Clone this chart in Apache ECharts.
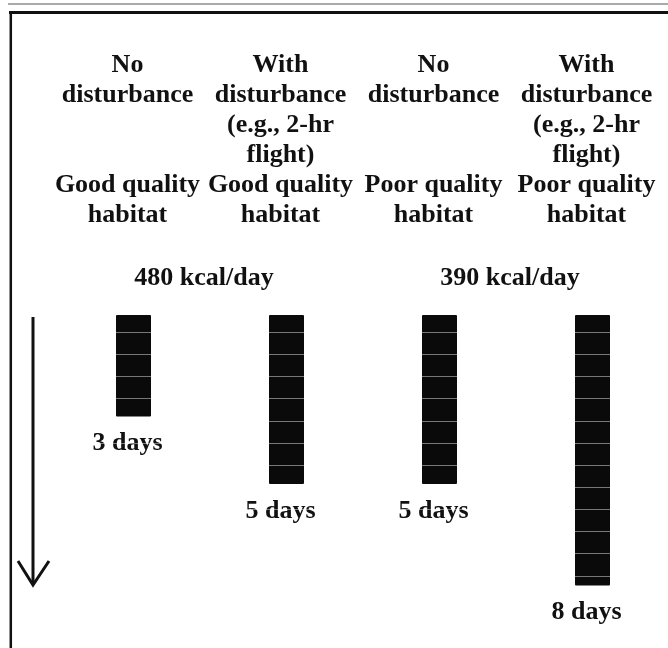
<!DOCTYPE html>
<html>
<head>
<meta charset="utf-8">
<title>Days to recover</title>
<script src="https://cdn.jsdelivr.net/npm/echarts@6/dist/echarts.min.js"></script>
<style>
  html, body { margin: 0; padding: 0; background: #fff; }
  #main { width: 668px; height: 648px; }
</style>
</head>
<body>
<div id="main"></div>
<script>
// header texts, one per column
var disturbance = [
  'No\ndisturbance',
  'With\ndisturbance\n(e.g., 2-hr\nflight)',
  'No\ndisturbance',
  'With\ndisturbance\n(e.g., 2-hr\nflight)'
];
var habitat = [
  'Good quality\nhabitat',
  'Good quality\nhabitat',
  'Poor quality\nhabitat',
  'Poor quality\nhabitat'
];
// days needed, one bar per column
var days = [3, 5, 5, 8];
// energy intake, one per habitat pair
var intake = ['480 kcal/day', '390 kcal/day'];

var ink = '#111';
var font = {
  fontFamily: 'Liberation Serif',
  fontSize: 26,
  fontWeight: 'bold',
  color: ink,
  lineHeight: 30
};

function headerText(v, i) {
  var lines = disturbance[i].split('\n');
  while (lines.length < 4) lines.push('');
  return lines.concat(habitat[i].split('\n')).join('\n');
}

var myChart = echarts.init(document.getElementById('main'));
var option = {
  backgroundColor: '#fff',
  animation: false,
  grid: [
    {left: 57, width: 612, top: 315, height: 304.2, outerBoundsMode: 'none'},   // bars
    {left: 57, width: 612, top: 310.2, height: 287.7, outerBoundsMode: 'none'}, // scan stripes
    {left: 51, width: 612, top: 50, height: 10, outerBoundsMode: 'none'},       // headers
    {left: 51, width: 612, top: 278, height: 10, outerBoundsMode: 'none'}       // kcal
  ],
  xAxis: [
    {gridIndex: 0, type: 'category', data: disturbance, show: false},
    {gridIndex: 1, type: 'value', min: 0, max: 1, show: false},
    {
      gridIndex: 2, type: 'category', position: 'top', data: disturbance,
      axisLine: {show: false}, axisTick: {show: false},
      axisLabel: Object.assign({interval: 0, margin: 0, verticalAlign: 'top', formatter: headerText}, font)
    },
    {
      gridIndex: 3, type: 'category', position: 'top', data: intake,
      axisLine: {show: false}, axisTick: {show: false},
      axisLabel: Object.assign({interval: 0, margin: 0, verticalAlign: 'middle'}, font)
    }
  ],
  yAxis: [
    {gridIndex: 0, type: 'value', inverse: true, min: 0, max: 9, show: false},
    {
      gridIndex: 1, type: 'value', inverse: true, min: 0, max: 13, interval: 1, z: 10,
      axisLine: {show: false}, axisTick: {show: false}, axisLabel: {show: false},
      splitLine: {show: true, lineStyle: {color: 'rgba(255,255,255,0.45)', width: 1}}
    },
    {gridIndex: 2, type: 'value', show: false},
    {gridIndex: 3, type: 'value', show: false}
  ],
  series: [
    {
      type: 'bar',
      xAxisIndex: 0,
      yAxisIndex: 0,
      data: days,
      barWidth: 35,
      itemStyle: {color: '#0a0a0a', borderRadius: 1},
      label: Object.assign({
        show: true,
        position: 'bottom',
        distance: 12,
        offset: [-6, 0],
        textBorderWidth: 0,
        formatter: function (p) { return p.value + ' days'; }
      }, font)
    }
  ],
  graphic: [
    // frame of the scanned figure
    {type: 'line', shape: {x1: 8, y1: 4, x2: 668, y2: 4}, style: {stroke: '#aaa', lineWidth: 2}},
    {type: 'line', shape: {x1: 9, y1: 12.5, x2: 668, y2: 12.5}, style: {stroke: '#111', lineWidth: 3}},
    {type: 'line', shape: {x1: 10.8, y1: 11, x2: 10.8, y2: 648}, style: {stroke: '#111', lineWidth: 2.5}},
    // time arrow
    {type: 'line', shape: {x1: 33, y1: 317, x2: 33, y2: 584}, style: {stroke: '#111', lineWidth: 3}},
    {type: 'polyline', shape: {points: [[18, 561], [33, 585], [49, 561]]}, style: {stroke: '#111', lineWidth: 3, fill: null}}
  ]
};
myChart.setOption(option, true);
</script>
</body>
</html>
